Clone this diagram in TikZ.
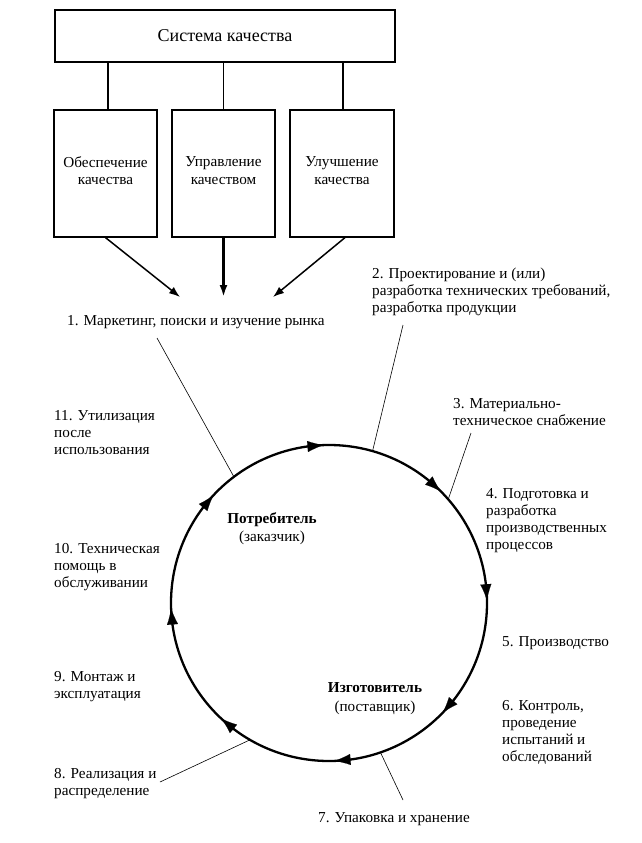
\documentclass[tikz,border=0pt]{standalone}
\usepackage{fontspec}
\setmainfont{Liberation Serif}
\usetikzlibrary{arrows.meta}
\begin{document}
\begin{tikzpicture}[x=1pt,y=-1pt,
  txt/.style={font=\fontsize{15.2}{17.3}\selectfont},
  lbl/.style={txt, align=left, anchor=base west, inner sep=0pt},
  box/.style={draw, line width=1.2pt, inner sep=0pt, txt, align=center},
  boxtext/.style={txt, align=center, inner sep=0pt},
  link/.style={line width=1.2pt},
  lead/.style={line width=0.6pt},
  feed/.style={line width=1.5pt, -{Latex[length=11pt,width=8pt]}},
  feedthick/.style={line width=2.4pt, -{Latex[length=12pt,width=8pt]}},
  cycarrow/.style={line width=0.1pt, -{Latex[length=16pt,width=11pt]}},
  ctr/.style={txt, align=center, inner sep=0pt, anchor=base}
]
\useasboundingbox (0,0) rectangle (642,843);
\fill[white] (0,0) rectangle (642,843);

% boxes
\node[box, minimum width=340pt, minimum height=52pt, font=\fontsize{18}{21}\selectfont] (top) at (225,36) {Система качества};
\node[box, minimum width=103pt, minimum height=127pt] (b1) at (105.5,173.5) {};
\node[box, minimum width=103pt, minimum height=127pt] (b2) at (223.5,173.5) {};
\node[box, minimum width=104pt, minimum height=127pt] (b3) at (342,173.5) {};
\node[boxtext] (b1t) at ([yshift=3pt]b1.center) {Обеспечение\\качества};
\node[boxtext] (b2t) at ([yshift=3pt]b2.center) {Управление\\качеством};
\node[boxtext] (b3t) at ([yshift=3pt]b3.center) {Улучшение\\качества};

\draw[link] ([xshift=2.5pt]b1.north) -- ([xshift=2.5pt]b1.north |- top.south);
\draw[link] (b2.north) -- (b2.north |- top.south);
\draw[link] ([xshift=1pt]b3.north) -- ([xshift=1pt]b3.north |- top.south);

\coordinate (t1) at (180,297);
\coordinate (t2) at (223.5,297);
\coordinate (t3) at (273,297);
\draw[feed] (b1.south) -- (t1);
\draw[feedthick] (b2.south) -- (t2);
\draw[feed] ([xshift=3pt]b3.south) -- (t3);

% ring
\node[circle, draw, line width=2.3pt, minimum size=316pt, inner sep=0pt, outer sep=0pt] (ring) at (329,603) {};
\foreach \a in {92,45.5,1,-44.5,-88.5,-133,-178.5,137}{
  \draw[cycarrow] (ring.\a+6) -- (ring.\a);
}

% labels (anchored at the baseline of their last line)
\node[lbl] (l1) at (67,325) {1. Маркетинг, поиски и изучение рынка};
\node[lbl] (l2) at (372,312.6) {2. Проектирование и (или)\\разработка технических требований,\\разработка продукции};
\node[lbl] (l3) at (453,425.3) {3. Материально-\\техническое снабжение};
\node[lbl] (l4) at (486,549.9) {4. Подготовка и\\разработка\\производственных\\процессов};
\node[lbl] (l5) at (502,646) {5. Производство};
\node[lbl] (l6) at (502,761.9) {6. Контроль,\\проведение\\испытаний и\\обследований};
\node[lbl] (l7) at (318,822) {7. Упаковка и хранение};
\node[lbl] (l8) at (54,795.3) {8. Реализация и\\распределение};
\node[lbl] (l9) at (54,698.3) {9. Монтаж и\\эксплуатация};
\node[lbl] (l10) at (54,587.6) {10. Техническая\\помощь в\\обслуживании};
\node[lbl] (l11) at (54,454.6) {11. Утилизация\\после\\использования};

\node[ctr] (cons) at (272,541) {\textbf{Потребитель}\\(заказчик)};
\node[ctr] (manu) at (375,711) {\textbf{Изготовитель}\\[1.5pt](поставщик)};

% leader lines
\coordinate (e1) at (157,338);
\coordinate (e2) at (403,325);
\coordinate (e3) at (471,433);
\coordinate (e7) at (403,800);
\coordinate (e8) at (160,782);
\draw[lead] (e1) -- (ring.127);
\draw[lead] (e2) -- (ring.74.7);
\draw[lead] (e3) -- (ring.41.5);
\draw[lead] (e7) -- (ring.289.6);
\draw[lead] (e8) -- (ring.240.6);
\end{tikzpicture}
\end{document}
